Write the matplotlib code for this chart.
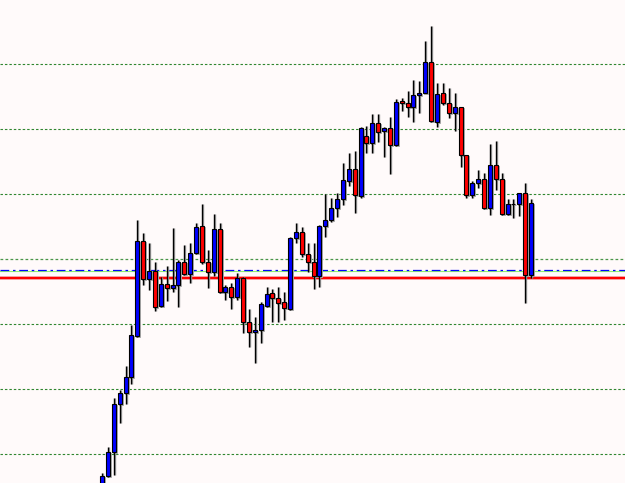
import numpy as np
import matplotlib
matplotlib.use("Agg")
import matplotlib.pyplot as plt

# candle data, price in points (open, high, low, close), oldest first
opens = [10, 24, 48, 96, 107, 123, 164, 259, 221, 229, 194, 216, 212, 215, 238, 226, 247, 274, 238, 228,
         271, 208, 213, 203, 222, 178, 168, 170, 194, 207, 202, 198, 191, 262, 268, 246, 238, 224, 274, 280,
         292, 301, 319, 331, 304, 364, 357, 377, 369, 372, 355, 399, 397, 393, 405, 407, 438, 378, 407, 397,
         387, 393, 345, 305, 317, 321, 292, 335, 321, 286, 296, 296, 307, 225]
highs = [27, 53, 102, 110, 134, 175, 280, 267, 257, 238, 223, 234, 272, 240, 255, 257, 277, 296, 250, 286,
         277, 215, 217, 227, 223, 191, 183, 198, 213, 211, 213, 208, 263, 277, 273, 257, 257, 275, 306, 302,
         307, 337, 347, 349, 373, 374, 386, 386, 373, 383, 401, 402, 409, 420, 419, 459, 474, 417, 417, 412,
         407, 393, 345, 319, 330, 327, 356, 359, 327, 301, 301, 307, 317, 301]
lows = [5, 23, 25, 77, 96, 116, 163, 215, 210, 189, 193, 199, 208, 193, 225, 217, 246, 236, 212, 224,
        207, 200, 191, 200, 167, 153, 137, 157, 193, 178, 178, 180, 190, 257, 243, 228, 211, 213, 263, 278,
        283, 295, 314, 287, 302, 347, 347, 358, 343, 326, 354, 389, 383, 378, 387, 407, 378, 373, 395, 382,
        369, 333, 302, 302, 312, 291, 285, 310, 285, 285, 282, 284, 197, 222]
closes = [24, 48, 96, 107, 123, 165, 259, 221, 229, 193, 216, 212, 215, 238, 226, 247, 273, 238, 228, 271,
          208, 213, 203, 222, 178, 168, 170, 196, 206, 202, 197, 192, 262, 268, 246, 238, 224, 274, 280, 292,
          301, 320, 331, 305, 372, 357, 377, 368, 372, 355, 398, 397, 393, 405, 407, 438, 379, 406, 397, 387,
          393, 345, 305, 317, 321, 292, 335, 321, 286, 296, 296, 307, 225, 297]

grid_levels = [436, 371, 306, 176, 111, 46]
light_level = 241
dashdot_level = 230.5
red_level = 222

fig = plt.figure(figsize=(6.25, 4.83), dpi=100)
fig.patch.set_facecolor("#FFFAFA")
ax = fig.add_axes([0, 0, 1, 1])
ax.set_facecolor("#FFFAFA")
ax.axis("off")

n = len(opens)
x = np.arange(n)
o = np.array(opens, float)
h = np.array(highs, float)
l = np.array(lows, float)
c = np.array(closes, float)

# horizontal levels
for lv in grid_levels:
    ax.axhline(lv, color="#2f862f", lw=0.8, ls=(0, (2.2, 1.8)), zorder=1)
# support level drawn a bit lighter
ax.axhline(light_level, color="#4a964a", lw=0.9, ls=(0, (2.2, 1.8)), zorder=1.05)
ax.axhline(dashdot_level - 1, color="#90EE70", lw=0.8, zorder=1)
ax.axhline(dashdot_level, color="#0000FF", lw=0.9, ls=(0, (7, 3, 2, 3)), zorder=1.1)
ax.axhline(red_level, color="#f5a5a5", lw=2.6, zorder=1.2)
ax.axhline(red_level, color="#FF0000", lw=1.6, zorder=1.3)

dx = 1 / 5.877  # one pixel in x units
up = c >= o
body_bottom = np.minimum(o, c)
body_height = np.abs(c - o)
colors = np.where(up, "#0000FF", "#FF0000")

# gray shadow
ax.vlines(x + dx, l, h, color="#a0a0a0", lw=1.0, zorder=2)
ax.bar(x + dx, body_height, width=0.68, bottom=body_bottom - 1, color="#a8a8a8",
       edgecolor="#a8a8a8", lw=0.7, zorder=2)

# candles
ax.vlines(x, l, h, color="black", lw=1.0, zorder=3)
ax.bar(x, body_height, width=0.68, bottom=body_bottom, color=colors,
       edgecolor="black", lw=0.8, zorder=4)

ax.set_xlim(-17.36, 88.99)
ax.set_ylim(17, 500)

fig.savefig("out.png", dpi=100, facecolor=fig.get_facecolor())
